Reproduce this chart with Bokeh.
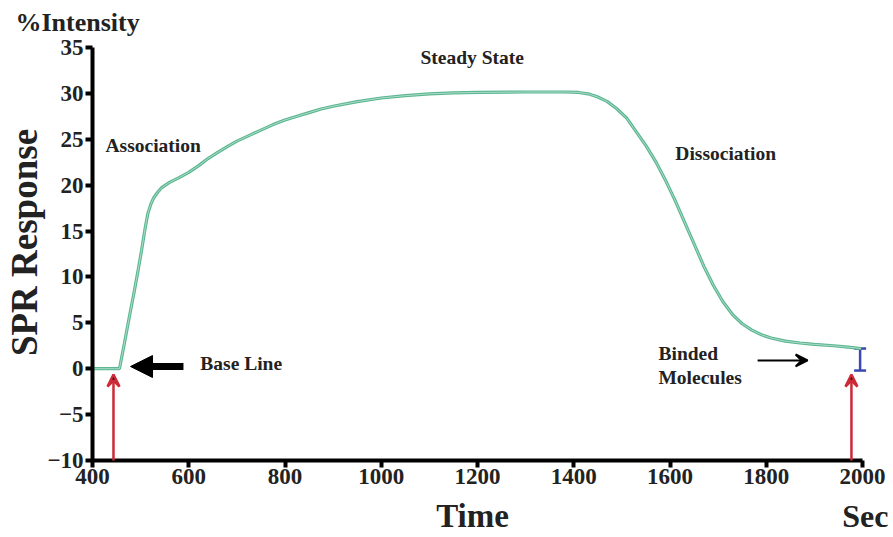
import math
from bokeh.plotting import figure
from bokeh.models import Range1d, Label, Arrow, VeeHead, NormalHead, Whisker, TeeHead, ColumnDataSource, FixedTicker
from bokeh.embed import file_html
from bokeh.resources import INLINE

# ---- data ----
time = [400, 445, 456, 466, 476, 487, 495, 502, 509, 515, 521, 527, 535, 543, 560, 579, 600, 620, 640,
        661, 680, 700, 725, 750, 775, 800, 825, 850, 875, 900, 950, 1000, 1050, 1100, 1150, 1200,
        1300, 1380, 1410, 1430, 1450, 1470, 1490, 1510, 1530, 1550, 1570, 1590, 1610, 1630, 1650,
        1670, 1690, 1710, 1730, 1750, 1770, 1790, 1810, 1840, 1870, 1900, 1940, 1970, 1997]
response = [0, 0, 0, 2.7, 5.5, 8.5, 10.8, 12.9, 15.2, 16.9, 17.9, 18.6, 19.2, 19.7, 20.3, 20.8, 21.4,
            22.1, 22.9, 23.6, 24.2, 24.8, 25.4, 26.0, 26.6, 27.1, 27.5, 27.9, 28.3, 28.6, 29.1, 29.5,
            29.75, 29.95, 30.05, 30.1, 30.15, 30.15, 30.1, 29.95, 29.6, 29.1, 28.3, 27.3, 25.8, 24.3,
            22.6, 20.6, 18.4, 16.0, 13.6, 11.2, 9.1, 7.3, 5.9, 4.9, 4.2, 3.7, 3.35, 3.0, 2.8, 2.65,
            2.5, 2.35, 2.2]

x_ticks = [400, 600, 800, 1000, 1200, 1400, 1600, 1800, 2000]
y_ticks = [-10, -5, 0, 5, 10, 15, 20, 25, 30, 35]
x_min, x_max = 400, 2000
y_min, y_max = -10, 35

start_marker_x = 443.6
end_marker_x = 1977
marker_bottom = -10
marker_top = -0.63

binded_x = 1995
binded_low = -0.2
binded_high = 2.2

baseline_arrow = (589, 479, 0.24)     # x_start, x_end, y
binded_arrow = (1782, 1886, 0.9)

annotations = [
    ("Association", 427, 24.3),
    ("Steady State", 1081.6, 33.9),
    ("Dissociation", 1611, 23.45),
    ("Base Line", 624, 0.57),
    ("Binded", 1576, 1.66),
    ("Molecules", 1576, -0.96),
]

FONT = "Liberation Serif"
TXT = "#222222"

p = figure(width=893, height=537, output_backend="svg", toolbar_location=None,
           x_range=Range1d(208.83, 2064.4), y_range=Range1d(-18.39, 40.12),
           min_border=0)
p.min_border_left = 0
p.min_border_right = 0
p.min_border_top = 0
p.min_border_bottom = 0
p.outline_line_color = None
p.grid.visible = False
p.background_fill_color = "white"

xa = p.xaxis[0]
ya = p.yaxis[0]
xa.fixed_location = y_min
ya.fixed_location = x_min
xa.bounds = (x_min, x_max)
ya.bounds = (y_min, y_max)
for ax in (xa, ya):
    ax.axis_line_width = 4
    ax.axis_line_color = "black"
    ax.major_tick_line_width = 4
    ax.major_tick_line_color = "black"
    ax.major_tick_out = 7
    ax.major_tick_in = 0
    ax.minor_tick_line_color = None
    ax.major_label_text_font = FONT
    ax.major_label_text_font_style = "bold"
    ax.major_label_text_font_size = "23px"
    ax.major_label_text_color = TXT
    ax.major_label_standoff = 2
xa.ticker = FixedTicker(ticks=x_ticks)
ya.ticker = FixedTicker(ticks=y_ticks)

src = ColumnDataSource(dict(t=time, r=response))
p.line("t", "r", source=src, line_color="#5cb692", line_width=3.2)
p.line("t", "r", source=src, line_color="#bfe6d5", line_width=1, line_alpha=0.8)

red = "#cc2a36"
for xm in (start_marker_x, end_marker_x):
    p.add_layout(Arrow(x_start=xm, y_start=marker_bottom, x_end=xm, y_end=marker_top,
                       line_color=red, line_width=2.5,
                       end=VeeHead(size=12, line_color=red, line_width=2.5)))

blue = "#3a48b0"
p.add_layout(Whisker(base=binded_x, lower=binded_low, upper=binded_high, dimension="height",
                     line_color=blue, line_width=2.5,
                     upper_head=TeeHead(size=12, line_color=blue, line_width=2.5),
                     lower_head=TeeHead(size=12, line_color=blue, line_width=2.5)))

p.add_layout(Arrow(x_start=baseline_arrow[0], y_start=baseline_arrow[2],
                   x_end=baseline_arrow[1], y_end=baseline_arrow[2],
                   line_color="black", line_width=7,
                   end=NormalHead(size=22, fill_color="black", line_color="black", line_width=1)))
p.add_layout(Arrow(x_start=binded_arrow[0], y_start=binded_arrow[2],
                   x_end=binded_arrow[1], y_end=binded_arrow[2],
                   line_color="black", line_width=2,
                   end=VeeHead(size=12, line_color="black", line_width=2)))

for txt, xx, yy in annotations:
    p.add_layout(Label(x=xx, y=yy, text=txt, text_font=FONT, text_font_style="bold",
                       text_font_size="19.5px", text_color=TXT,
                       text_align="left", text_baseline="middle"))

def big_label(txt, xx, yy, size, align="center", angle=0.0):
    p.add_layout(Label(x=xx, y=yy, text=txt, text_font=FONT, text_font_style="bold",
                       text_font_size=size, text_color=TXT, angle=angle,
                       text_align=align, text_baseline="middle"))

big_label("%Intensity", 240, 37.72, "26px", align="left")
big_label("SPR Response", 258.7, 13.75, "37px", angle=math.pi / 2)
big_label("Time", 1189.6, -16.0, "33px")
big_label("Sec", 2006, -16.1, "32px")

open("out.html", "w").write(file_html(p, INLINE))
